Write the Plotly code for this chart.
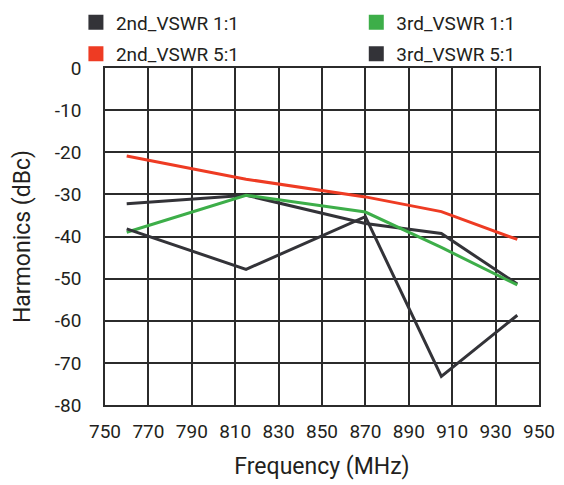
import plotly.graph_objects as go

# Harmonic levels vs. frequency
freq_mhz = [760, 815, 870, 905, 940]
second_vswr_1 = [-32.2, -30.2, -36.9, -39.3, -51.3]
second_vswr_5 = [-20.9, -26.4, -30.6, -34.1, -40.7]
third_vswr_1 = [-39.0, -30.2, -34.2, -42.6, -51.5]
third_vswr_5 = [-38.2, -47.8, -35.3, -73.2, -58.7]

x_ticks = list(range(750, 951, 20))
y_ticks = list(range(0, -81, -10))
y_labels = [str(v) for v in y_ticks]  # plain hyphen for negatives

DARK = "#333338"
RED = "#EE3B23"
GREEN = "#3DAE49"
GRID = "#2B2B2B"
FONT = "Roboto, Liberation Sans, sans-serif"

# (name, values, colour, legend box)
series = [
    ("2nd_VSWR 1:1", second_vswr_1, DARK, "legend"),
    ("2nd_VSWR 5:1", second_vswr_5, RED, "legend"),
    ("3rd_VSWR 1:1", third_vswr_1, GREEN, "legend2"),
    ("3rd_VSWR 5:1", third_vswr_5, DARK, "legend2"),
]

fig = go.Figure()
for name, vals, color, _ in series:
    fig.add_trace(go.Scatter(
        x=freq_mhz, y=vals, mode="lines", name=name,
        line=dict(color=color, width=3), showlegend=False,
    ))
# square legend swatches
for name, vals, color, lg in series:
    fig.add_trace(go.Scatter(
        x=[None], y=[None], mode="markers", name=name, legend=lg,
        legendgroup=name,
        marker=dict(symbol="square", size=15, color=color),
    ))

legend_common = dict(
    orientation="v", xanchor="left", yanchor="top", y=1.192,
    itemwidth=30, font=dict(size=19), tracegroupgap=4,
    bgcolor="rgba(0,0,0,0)",
)

fig.update_layout(
    width=564, height=485,
    margin=dict(l=105, r=25, t=68, b=80, autoexpand=False),
    paper_bgcolor="white", plot_bgcolor="white",
    font=dict(family=FONT, size=19, color="#231F20"),
    legend=dict(x=-0.067, **legend_common),
    legend2=dict(x=0.579, **legend_common),
    xaxis=dict(
        range=[750, 950], tickvals=x_ticks, ticks="",
        showgrid=True, gridcolor=GRID, gridwidth=1.5,
        showline=True, linecolor=GRID, linewidth=1.5, mirror=True,
        zeroline=False, ticklabelstandoff=8, automargin=False,
        title=dict(text="Frequency (MHz)", standoff=16),
    ),
    yaxis=dict(
        range=[-80, 0], tickvals=y_ticks, ticktext=y_labels, ticks="",
        showgrid=True, gridcolor=GRID, gridwidth=1.5,
        showline=True, linecolor=GRID, linewidth=1.5, mirror=True,
        zeroline=False, ticklabelstandoff=18, automargin=False,
        title=dict(text="Harmonics (dBc)", standoff=18),
    ),
)

fig.write_html("out.html")
